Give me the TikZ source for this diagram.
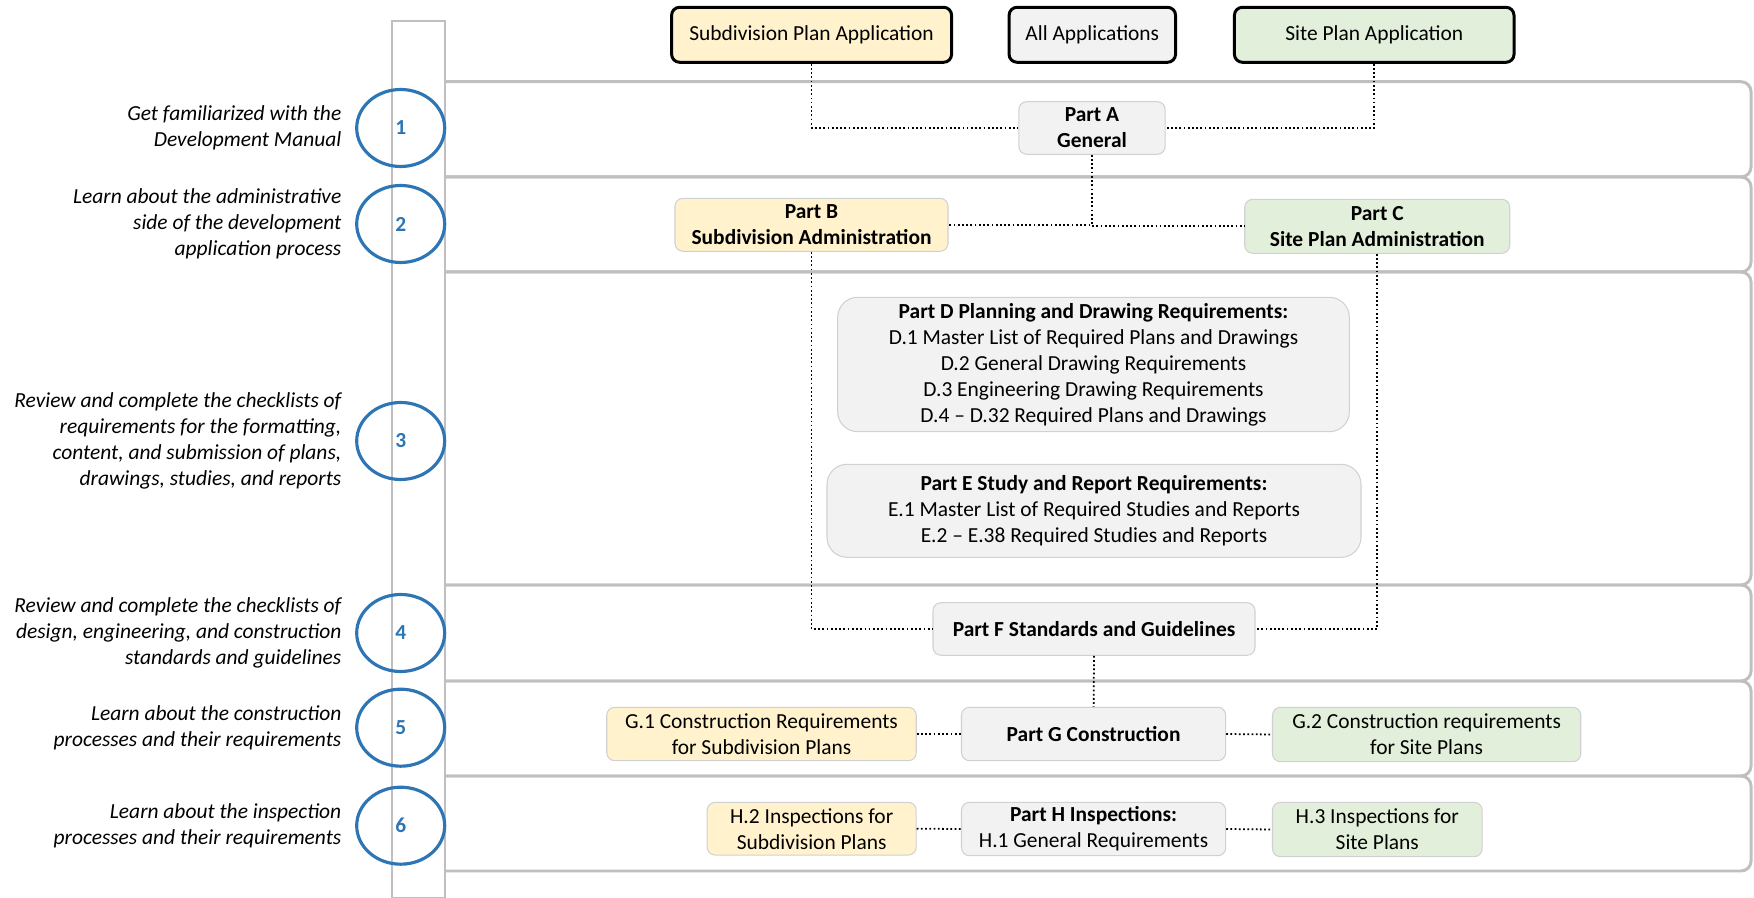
\documentclass[tikz,border=0pt]{standalone}
\usepackage{fontspec}
\setmainfont{Carlito}
\usetikzlibrary{shapes.geometric}
\definecolor{subyellow}{HTML}{FFF2CC}
\definecolor{sitegreen}{HTML}{E2EFDA}
\definecolor{allgray}{HTML}{F2F2F2}
\definecolor{stepblue}{HTML}{2E75B6}
\definecolor{bandgray}{HTML}{BFBFBF}

\begin{document}
\begin{tikzpicture}[x=0.1mm, y=-0.1mm,
    every node/.style={font=\fontsize{6.1}{7.4}\selectfont, inner sep=0pt},
    appbox/.style={draw=black, line width=0.85pt, rounded corners=0.8mm, minimum height=5.5mm},
    partbox/.style={draw=black!18, line width=0.3pt, rounded corners=0.8mm, align=center, fill=allgray},
    band/.style={draw=bandgray, line width=0.85pt, rounded corners=1mm},
    stepnum/.style={ellipse, draw=stepblue, line width=0.9pt, minimum width=8.8mm, minimum height=7.7mm,
        text=stepblue, font=\fontsize{6.1}{7.4}\selectfont\bfseries},
    stepdesc/.style={anchor=east, align=right, font=\fontsize{6.1}{7.4}\selectfont\itshape},
    link/.style={line width=0.5pt, dash pattern=on 0.5pt off 0.7pt}]
    \useasboundingbox (0,0) rectangle (1754,898);

    % one band for each step
    \foreach \ytop/\ybot in {81.7/177, 177/272, 272/585, 585/681, 681/776, 776/871}
        \draw[band] (445,\ytop) -- (1751,\ytop) -- (1751,\ybot) -- (445,\ybot);
    \draw[draw=black!25, line width=0.3pt, fill=white] (392,21) rectangle (445,898);

    \foreach \yc/\num/\desc in {
        128/1/{Get familiarized with the\\Development Manual},
        224/2/{Learn about the administrative\\side of the development\\application process},
        441/3/{Review and complete the checklists of\\requirements for the formatting,\\content, and submission of plans,\\drawings, studies, and reports},
        633/4/{Review and complete the checklists of\\design, engineering, and construction\\standards and guidelines},
        727.7/5/{Learn about the construction\\processes and their requirements},
        825.7/6/{Learn about the inspection\\processes and their requirements}}
    {
        \node[stepnum] (step\num) at (400.7,\yc) {\num};
        \node[stepdesc] (desc\num) at (342,\yc) {\desc};
    }

    % application types
    \node[appbox, fill=subyellow, minimum width=28mm] (subapp) at (811.6,34.8) {Subdivision Plan Application};
    \node[appbox, fill=allgray, minimum width=16.65mm] (allapp) at (1092.3,34.8) {All Applications};
    \node[appbox, fill=sitegreen, minimum width=27.96mm] (siteapp) at (1374.2,34.8) {Site Plan Application};

    \node[partbox, minimum width=14.64mm, minimum height=5.26mm] (partA) at (1092,128) {\textbf{Part A}\\\textbf{General}};
    \node[partbox, fill=subyellow, minimum width=27.3mm, minimum height=5.3mm] (partB) at (811.5,224.8)
        {\textbf{Part B}\\\textbf{Subdivision Administration}};
    \node[partbox, fill=sitegreen, minimum width=26.5mm, minimum height=5.4mm] (partC) at (1377.2,226.3)
        {\textbf{Part C}\\\textbf{Site Plan Administration}};
    \node[partbox, rounded corners=2mm, minimum width=51.17mm, minimum height=13.44mm] (partD) at (1093.5,364.5)
        {\textbf{Part D Planning and Drawing Requirements:}\\D.1 Master List of Required Plans and Drawings\\
         D.2 General Drawing Requirements\\D.3 Engineering Drawing Requirements\\D.4 – D.32 Required Plans and Drawings};
    \node[partbox, rounded corners=2mm, minimum width=53.4mm, minimum height=9.3mm] (partE) at (1094,510.8)
        {\textbf{Part E Study and Report Requirements:}\\E.1 Master List of Required Studies and Reports\\
         E.2 – E.38 Required Studies and Reports};
    \node[partbox, minimum width=32.2mm, minimum height=5.26mm] (partF) at (1094,629) {\textbf{Part F Standards and Guidelines}};

    \node[partbox, fill=subyellow, minimum width=30.95mm, minimum height=5.34mm] (g1) at (761.5,734)
        {G.1 Construction Requirements\\for Subdivision Plans};
    \node[partbox, minimum width=26.42mm, minimum height=5.34mm] (partG) at (1093.6,734) {\textbf{Part G Construction}};
    \node[partbox, fill=sitegreen, minimum width=30.83mm, minimum height=5.44mm] (g2) at (1426.6,734.5)
        {G.2 Construction requirements\\for Site Plans};

    \node[partbox, fill=subyellow, minimum width=20.9mm, minimum height=5.27mm] (h2) at (811.7,828.7)
        {H.2 Inspections for\\Subdivision Plans};
    \node[partbox, minimum width=26.42mm, minimum height=5.34mm] (partH) at (1093.6,829)
        {\textbf{Part H Inspections:}\\H.1 General Requirements};
    \node[partbox, fill=sitegreen, minimum width=20.97mm, minimum height=5.44mm] (h3) at (1377.3,829.5)
        {H.3 Inspections for\\Site Plans};

    % dotted links
    \draw[link] (subapp.south) |- (partA.west);
    \draw[link] (siteapp.south) |- (partA.east);
    \draw[link] (partA.south) |- (partB.east);
    \draw[link] (partA.south) |- (partC.west);
    \draw[link] (partB.south) |- (partF.west);
    \draw[link] (partC.south) |- (partF.east);
    \draw[link] (partF.south) -- (partG.north);
    \draw[link] (g1.east) -- (partG.west);
    \draw[link] (partG.east) -- (g2.west);
    \draw[link] (h2.east) -- (partH.west);
    \draw[link] (partH.east) -- (h3.west);
\end{tikzpicture}
\end{document}
